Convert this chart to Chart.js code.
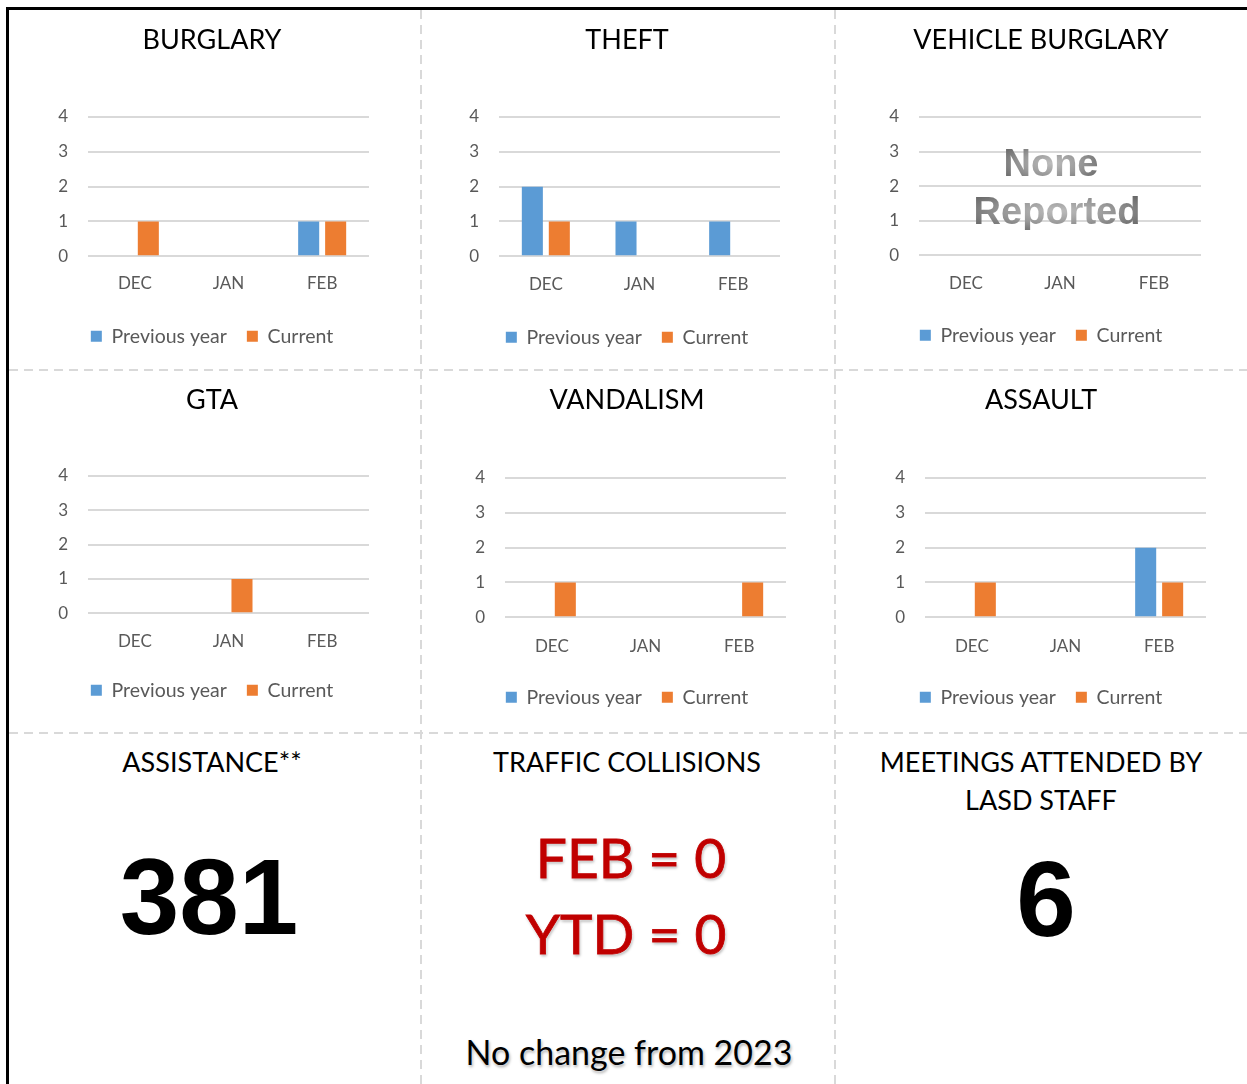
<!DOCTYPE html>
<html>
<head>
<meta charset="utf-8">
<script src="https://cdn.jsdelivr.net/npm/chart.js@4.4.1/dist/chart.umd.min.js"></script>
<style>
  html, body { margin: 0; padding: 0; background: #fff; }
  body { width: 1247px; height: 1084px; position: relative; overflow: hidden; font-family: Lato, "Open Sans", sans-serif; }
  .frame-top { position: absolute; left: 6px; top: 7px; width: 1241px; height: 3px; background: #000; }
  .frame-left { position: absolute; left: 6px; top: 7px; width: 3px; height: 1077px; background: #000; }
  .hdash { position: absolute; height: 2px; background: repeating-linear-gradient(to right, #d9d9d9 0 9px, transparent 9px 15px); }
  .vdash { position: absolute; width: 2px; background: repeating-linear-gradient(to bottom, #d9d9d9 0 9px, transparent 9px 15px); }
  canvas { position: absolute; }
  .txt { position: absolute; transform: translate(-50%, -50%); white-space: nowrap; line-height: 1; z-index: 2; }
  .head { font-size: 27px; color: #000; }
  .big { font-family: "Liberation Sans", Arial, sans-serif; font-weight: bold; font-size: 107px; color: #000; }
  .red { font-size: 55px; color: #c00000; -webkit-text-stroke: 0.8px #c00000;
         text-shadow: 0 0 2px #fff, 0 0 3px #fff, 1px 2px 3px rgba(0,0,0,0.35); }
  .note { font-size: 34px; color: #000; text-shadow: 0 0 2px #fff, 1px 2px 3px rgba(0,0,0,0.35); }
  .none { font-family: "Liberation Sans", Arial, sans-serif; font-weight: bold; font-size: 38px; color: transparent;
          background: radial-gradient(ellipse at center, #bdbdbd 0%, #999 45%, #575757 100%);
          -webkit-background-clip: text; background-clip: text; }
</style>
</head>
<body>
<div class="frame-top"></div>
<div class="frame-left"></div>
<div class="hdash" style="left:9px; top:369px; width:1238px;"></div>
<div class="hdash" style="left:9px; top:732px; width:1238px;"></div>
<div class="vdash" style="left:420px; top:10px; height:1074px;"></div>
<div class="vdash" style="left:834px; top:10px; height:1074px;"></div>

<canvas id="c-burglary"></canvas>
<canvas id="c-theft"></canvas>
<canvas id="c-vehicle"></canvas>
<canvas id="c-gta"></canvas>
<canvas id="c-vandalism"></canvas>
<canvas id="c-assault"></canvas>

<div class="txt none" style="left:1051px; top:163px;">None</div>
<div class="txt none" style="left:1057px; top:211px;">Reported</div>

<div class="txt head" style="left:212px; top:761px;">ASSISTANCE**</div>
<div class="txt big" style="left:209px; top:897px;" id="assist-count"></div>

<div class="txt head" style="left:627px; top:761px;">TRAFFIC COLLISIONS</div>
<div class="txt red" style="left:631px; top:857px;" id="tc-month"></div>
<div class="txt red" style="left:626px; top:933px;" id="tc-ytd"></div>
<div class="txt note" style="left:629px; top:1052px;">No change from 2023</div>

<div class="txt head" style="left:1041px; top:761px;">MEETINGS ATTENDED BY</div>
<div class="txt head" style="left:1041px; top:799px;">LASD STAFF</div>
<div class="txt big" style="left:1046px; top:899px;" id="meet-count"></div>

<script>
// Crime categories by month, previous year vs current
const months = ['DEC', 'JAN', 'FEB'];
const yTicks = [0, 1, 2, 3, 4];
const seriesNames = ['Previous year', 'Current'];

const burglaryPrev = [0, 0, 1];
const burglaryCur = [1, 0, 1];
const theftPrev = [2, 1, 1];
const theftCur = [1, 0, 0];
const vehiclePrev = [0, 0, 0];
const vehicleCur = [0, 0, 0];
const gtaPrev = [0, 0, 0];
const gtaCur = [0, 1, 0];
const vandalismPrev = [0, 0, 0];
const vandalismCur = [1, 0, 1];
const assaultPrev = [0, 0, 2];
const assaultCur = [1, 0, 1];

// Summary figures
const assistanceCount = 381;
const collisionsMonth = 0;
const collisionsYtd = 0;
const meetingsCount = 6;

document.getElementById('assist-count').textContent = assistanceCount;
document.getElementById('meet-count').textContent = meetingsCount;
document.getElementById('tc-month').textContent = 'FEB = ' + collisionsMonth;
document.getElementById('tc-ytd').textContent = 'YTD = ' + collisionsYtd;

const FONT = 'Lato, "Open Sans", sans-serif';
const GRAY = '#595959';
const BLUE = '#5b9bd5';
const ORANGE = '#ed7d31';

// Panel placement: title centre, plot-area edges, label rows
const layouts = {
  burglary:  { cx: 212,  titleY: 40,  L: 88,  R: 369,  T: 117, B: 256, catY: 283, legY: 336 },
  theft:     { cx: 627,  titleY: 40,  L: 499, R: 780,  T: 117, B: 256, catY: 284, legY: 337 },
  vehicle:   { cx: 1041, titleY: 40,  L: 919, R: 1201, T: 117, B: 255, catY: 283, legY: 335 },
  gta:       { cx: 212,  titleY: 400, L: 88,  R: 369,  T: 476, B: 613, catY: 641, legY: 690 },
  vandalism: { cx: 627,  titleY: 400, L: 505, R: 786,  T: 478, B: 617, catY: 646, legY: 697 },
  assault:   { cx: 1041, titleY: 400, L: 925, R: 1206, T: 478, B: 617, catY: 646, legY: 697 }
};

function buildChart(id, geo, title, prev, cur) {
  const hw = 190;
  const left = geo.cx - hw, width = hw * 2;
  const top = geo.titleY - 32;

  const titleSize = 27, titleLH = titleSize * 1.2;
  const padTop = geo.titleY - top - titleLH / 2;
  const padBottom = geo.T - top - padTop - titleLH;

  const catSize = 17, catLH = catSize * 1.2;
  const xPad = geo.catY - geo.B - catLH / 2;

  const legSize = 19.5, legPad = 20;
  const xAxisH = geo.legY - geo.B - legPad - legSize / 2;
  const legendH = legSize + legPad + 10;
  const bottomPad = 10;
  const height = Math.round(geo.B + xAxisH + legendH + bottomPad - top);

  const yW = geo.L - left;
  const rW = left + width - geo.R;

  const cv = document.getElementById(id);
  cv.width = width; cv.height = height;
  cv.style.left = left + 'px'; cv.style.top = top + 'px';
  cv.style.width = width + 'px'; cv.style.height = height + 'px';

  return new Chart(cv, {
    type: 'bar',
    data: {
      labels: months,
      datasets: [
        { label: seriesNames[0], data: prev, backgroundColor: BLUE, borderWidth: 0 },
        { label: seriesNames[1], data: cur, backgroundColor: ORANGE, borderWidth: 0 }
      ]
    },
    options: {
      responsive: false,
      animation: false,
      devicePixelRatio: 1,
      categoryPercentage: 0.576,
      barPercentage: 0.78,
      layout: { padding: { top: 0, left: 0, right: 0, bottom: bottomPad } },
      plugins: {
        title: {
          display: true, text: title, color: '#000',
          font: { family: FONT, size: titleSize, weight: 'normal', lineHeight: 1.2 },
          padding: { top: padTop, bottom: padBottom }
        },
        legend: {
          position: 'bottom',
          labels: { boxWidth: 11, boxHeight: 11, color: GRAY, padding: legPad,
                    font: { family: FONT, size: legSize } }
        },
        tooltip: { enabled: false }
      },
      scales: {
        x: {
          grid: { display: false, drawTicks: false },
          border: { display: false },
          ticks: { color: GRAY, padding: xPad, font: { family: FONT, size: catSize } },
          afterFit: (s) => { s.height = xAxisH; }
        },
        y: {
          min: yTicks[0], max: yTicks[yTicks.length - 1],
          grid: { color: '#d9d9d9', lineWidth: 2, drawTicks: false },
          border: { display: false },
          ticks: { stepSize: 1, color: GRAY, padding: 20, font: { family: FONT, size: catSize } },
          afterFit: (s) => { s.width = yW; }
        },
        yRight: {
          type: 'linear', axis: 'y', position: 'right', display: true,
          grid: { display: false, drawTicks: false },
          border: { display: false },
          ticks: { display: false },
          afterFit: (s) => { s.width = rW; }
        }
      }
    }
  });
}

buildChart('c-burglary', layouts.burglary, 'BURGLARY', burglaryPrev, burglaryCur);
buildChart('c-theft', layouts.theft, 'THEFT', theftPrev, theftCur);
buildChart('c-vehicle', layouts.vehicle, 'VEHICLE BURGLARY', vehiclePrev, vehicleCur);
buildChart('c-gta', layouts.gta, 'GTA', gtaPrev, gtaCur);
buildChart('c-vandalism', layouts.vandalism, 'VANDALISM', vandalismPrev, vandalismCur);
buildChart('c-assault', layouts.assault, 'ASSAULT', assaultPrev, assaultCur);
</script>
</body>
</html>
